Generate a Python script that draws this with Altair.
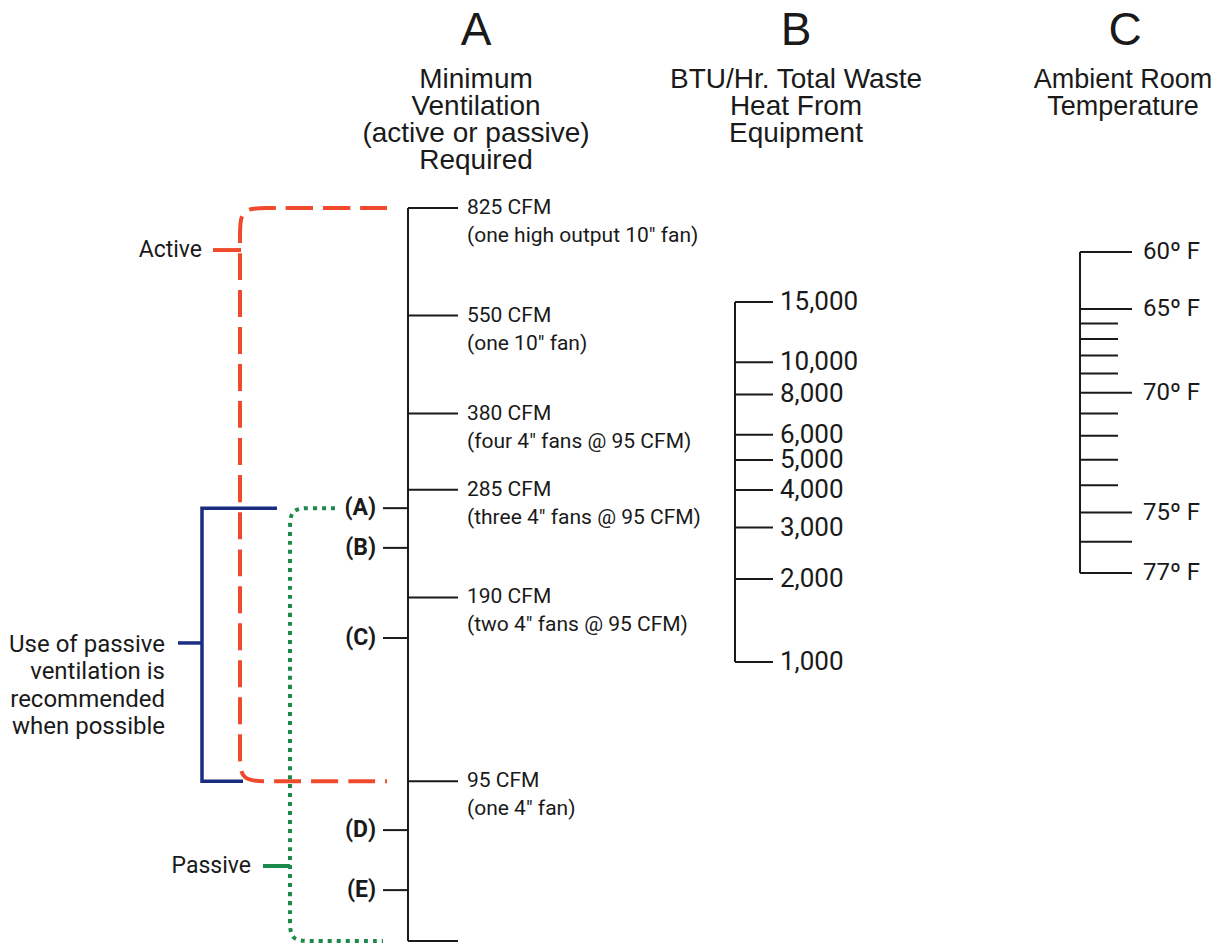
import altair as alt
import pandas as pd

# ---------------- data ----------------
# Column A: minimum ventilation required (CFM)
cfm_values = [825, 550, 380, 285, 190, 95]
cfm_titles = ["825 CFM", "550 CFM", "380 CFM", "285 CFM", "190 CFM", "95 CFM"]
cfm_notes = ['(one high output 10" fan)', '(one 10" fan)', '(four 4" fans @ 95 CFM)',
             '(three 4" fans @ 95 CFM)', '(two 4" fans @ 95 CFM)', '(one 4" fan)']
a_axis_top = [825]
a_axis_bottom = [52]
marker_labels = ["(A)", "(B)", "(C)", "(D)", "(E)"]
marker_values = [266, 229, 163, 79, 63]

# Brackets on column A
active_range = [825, 95]
active_tick = [704]
passive_range = [266, 52]
passive_tick = [69]
recommend_range = [266, 95]
recommend_tick = [160]

# Column B: BTU/Hr waste heat
btu_values = [15000, 10000, 8000, 6000, 5000, 4000, 3000, 2000, 1000]
btu_labels = ["15,000", "10,000", "8,000", "6,000", "5,000", "4,000", "3,000", "2,000", "1,000"]

# Column C: ambient room temperature
temp_major = [60, 65, 70, 75, 76, 77]
temp_minor = [66, 67, 68, 69, 71, 72, 73, 74]
temp_labeled = [60, 65, 70, 75, 77]
temp_labels = ["60\u00ba F", "65\u00ba F", "70\u00ba F", "75\u00ba F", "77\u00ba F"]

# Headers
col_letters = ["A", "B", "C"]
col_titles = [["Minimum", "Ventilation", "(active or passive)", "Required"],
              ["BTU/Hr. Total Waste", "Heat From", "Equipment"],
              ["Ambient Room", "Temperature"]]

# ---------------- styling / layout ----------------
W, H = 1207, 935
OFF = 8  # page margin


def px(v):
    return v - OFF


NARROW = "Roboto, Liberation Sans, sans-serif"
REG = "Liberation Sans, Arial, Helvetica, sans-serif"
ORANGE = "#ef4a2b"
BLUE = "#1b2d82"
GREEN = "#1c8a4a"
BLACK = "#1a1a1a"

A_DOM = [52, 825]
A_RANGE = [px(941), px(208)]
A_SCALE = alt.Scale(type="log", domain=A_DOM, range=A_RANGE, nice=False, zero=False)
B_SCALE = alt.Scale(type="pow", exponent=0.1, domain=[1000, 15000], range=[px(662), px(302)], nice=False, zero=False)
C_SCALE = alt.Scale(type="pow", exponent=6, domain=[60, 77], range=[px(252), px(573)], nice=False, zero=False)
X_SCALE = alt.Scale(domain=[OFF, W + OFF], range=[0, W], nice=False, zero=False)

AX = 408   # column A axis x
BX = 735   # column B axis x
CX = 1080  # column C axis x


def ya(field):
    return alt.Y(field, type="quantitative", scale=A_SCALE, axis=None)


def a_shift(v, d):
    """value on the A (log) scale that lies d pixels below value v (corner rounding)."""
    span = A_RANGE[0] - A_RANGE[1]
    return v * (A_DOM[1] / A_DOM[0]) ** (-d / span)


# ---------------- column A ----------------
cfm_df = pd.DataFrame({"v": cfm_values, "t1": cfm_titles, "t2": cfm_notes})
axis_a_df = pd.DataFrame({"top": a_axis_top, "bottom": a_axis_bottom})
marker_df = pd.DataFrame({"v": marker_values, "lab": marker_labels})

a_line = alt.Chart(axis_a_df).mark_rule(color=BLACK, strokeWidth=2).encode(
    x=alt.value(px(AX)), y=ya("top"), y2="bottom")
a_ticks = alt.Chart(cfm_df).mark_rule(color=BLACK, strokeWidth=2).encode(
    x=alt.value(px(AX)), x2=alt.value(px(AX + 50)), y=ya("v"))
a_bottom_tick = alt.Chart(axis_a_df).mark_rule(color=BLACK, strokeWidth=2).encode(
    x=alt.value(px(AX)), x2=alt.value(px(AX + 50)), y=ya("bottom"))
a_t1 = alt.Chart(cfm_df).mark_text(align="left", baseline="middle", font=NARROW, fontSize=21,
                                   color=BLACK).encode(
    x=alt.value(px(AX + 59)), y=ya("v"), text="t1:N")
a_t2 = alt.Chart(cfm_df).mark_text(align="left", baseline="middle", font=NARROW, fontSize=21,
                                   color=BLACK, dy=28).encode(
    x=alt.value(px(AX + 59)), y=ya("v"), text="t2:N")
m_ticks = alt.Chart(marker_df).mark_rule(color=BLACK, strokeWidth=2).encode(
    x=alt.value(px(383)), x2=alt.value(px(AX)), y=ya("v"))
m_text = alt.Chart(marker_df).mark_text(align="right", baseline="middle", font=NARROW, fontSize=23,
                                        fontWeight="bold", color=BLACK).encode(
    x=alt.value(px(376)), y=ya("v"), text="lab:N")


def bracket_df(xc, x_top_end, x_bot_end, v_top, v_bot, r):
    xs = [x_top_end, xc + 2 * r, xc + r, xc, xc, xc, xc, xc, xc, xc + r, xc + 2 * r, x_bot_end]
    vs = [v_top, v_top, v_top, v_top, a_shift(v_top, r), a_shift(v_top, 2 * r),
          a_shift(v_bot, -2 * r), a_shift(v_bot, -r), v_bot, v_bot, v_bot, v_bot]
    return pd.DataFrame({"o": list(range(len(xs))), "x": xs, "v": vs})


orange_df = bracket_df(240, 387, 387, active_range[0], active_range[1], 27)
green_df = bracket_df(290, 335, 383, passive_range[0], passive_range[1], 22)
# green top horizontal is short: drop the far straight point so the end stays at x=335
green_df = green_df.drop(index=1).reset_index(drop=True)
green_df["o"] = range(len(green_df))
blue_df = pd.DataFrame({"o": [0, 1, 2, 3], "x": [277, 202, 202, 243],
                        "v": [recommend_range[0], recommend_range[0], recommend_range[1], recommend_range[1]]})


def bracket(df, color, dash, width, interp):
    kw = dict(color=color, strokeWidth=width, interpolate=interp, strokeCap="butt")
    if dash:
        kw["strokeDash"] = dash
    return alt.Chart(df).mark_line(**kw).encode(
        x=alt.X("x:Q", scale=X_SCALE, axis=None),
        y=ya("v"),
        order="o:Q")


blue_line = bracket(blue_df, BLUE, None, 3.5, "linear")
orange_line = bracket(orange_df, ORANGE, [27, 10], 4, "basis")
green_line = bracket(green_df, GREEN, [4, 5], 4, "basis")

act_df = pd.DataFrame({"v": active_tick, "lab": ["Active"]})
pas_df = pd.DataFrame({"v": passive_tick, "lab": ["Passive"]})
rec_df = pd.DataFrame({"v": recommend_tick,
                       "lab": [["Use of passive", "ventilation is", "recommended", "when possible"]]})

act_tick = alt.Chart(act_df).mark_rule(color=ORANGE, strokeWidth=4).encode(
    x=alt.value(px(213)), x2=alt.value(px(241)), y=ya("v"))
act_text = alt.Chart(act_df).mark_text(align="right", baseline="middle", font=NARROW, fontSize=23,
                                       color=BLACK).encode(
    x=alt.value(px(202)), y=ya("v"), text="lab:N")
pas_tick = alt.Chart(pas_df).mark_rule(color=GREEN, strokeWidth=4).encode(
    x=alt.value(px(263)), x2=alt.value(px(290)), y=ya("v"))
pas_text = alt.Chart(pas_df).mark_text(align="right", baseline="middle", font=NARROW, fontSize=23,
                                       color=BLACK).encode(
    x=alt.value(px(251)), y=ya("v"), text="lab:N")
rec_tick = alt.Chart(rec_df).mark_rule(color=BLUE, strokeWidth=3.5).encode(
    x=alt.value(px(178)), x2=alt.value(px(202)), y=ya("v"))
rec_text = alt.Chart(rec_df).mark_text(align="right", baseline="alphabetic", font=NARROW, fontSize=24,
                                       lineHeight=27.5, dy=9, color=BLACK).encode(
    x=alt.value(px(165)), y=ya("v"), text="lab")

col_a = alt.layer(blue_line, orange_line, green_line, a_line, a_ticks, a_bottom_tick, a_t1, a_t2,
                  m_ticks, m_text, act_tick, act_text, pas_tick, pas_text, rec_tick, rec_text)

# ---------------- column B ----------------
btu_df = pd.DataFrame({"v": btu_values, "lab": btu_labels})
b_ext = pd.DataFrame({"top": [max(btu_values)], "bottom": [min(btu_values)]})
yb = lambda f: alt.Y(f, type="quantitative", scale=B_SCALE, axis=None)
b_line = alt.Chart(b_ext).mark_rule(color=BLACK, strokeWidth=2).encode(
    x=alt.value(px(BX)), y=yb("top"), y2="bottom")
b_ticks = alt.Chart(btu_df).mark_rule(color=BLACK, strokeWidth=2).encode(
    x=alt.value(px(BX)), x2=alt.value(px(BX + 38)), y=yb("v"))
b_text = alt.Chart(btu_df).mark_text(align="left", baseline="middle", font=NARROW, fontSize=26,
                                     color=BLACK).encode(
    x=alt.value(px(BX + 45)), y=yb("v"), text="lab:N")
col_b = alt.layer(b_line, b_ticks, b_text)

# ---------------- column C ----------------
c_ext = pd.DataFrame({"top": [min(temp_major)], "bottom": [max(temp_major)]})
major_df = pd.DataFrame({"v": temp_major})
minor_df = pd.DataFrame({"v": temp_minor})
lab_df = pd.DataFrame({"v": temp_labeled, "lab": temp_labels})
yc = lambda f: alt.Y(f, type="quantitative", scale=C_SCALE, axis=None)
c_line = alt.Chart(c_ext).mark_rule(color=BLACK, strokeWidth=2).encode(
    x=alt.value(px(CX)), y=yc("top"), y2="bottom")
c_major = alt.Chart(major_df).mark_rule(color=BLACK, strokeWidth=2).encode(
    x=alt.value(px(CX)), x2=alt.value(px(CX + 52)), y=yc("v"))
c_minor = alt.Chart(minor_df).mark_rule(color=BLACK, strokeWidth=2).encode(
    x=alt.value(px(CX)), x2=alt.value(px(CX + 38)), y=yc("v"))
c_text = alt.Chart(lab_df).mark_text(align="left", baseline="middle", font=NARROW, fontSize=24,
                                     color=BLACK).encode(
    x=alt.value(px(CX + 63)), y=yc("v"), text="lab:N")
col_c = alt.layer(c_line, c_major, c_minor, c_text)

# ---------------- headers ----------------
head_x = [476, 796, 1123]
head_size = [28, 28, 27]
head_layers = []
for i in range(3):
    hdf = pd.DataFrame({"letter": [col_letters[i]], "title": [col_titles[i]]})
    head_layers.append(alt.Chart(hdf).mark_text(align="center", baseline="alphabetic", font=REG,
                                                fontSize=46, color=BLACK).encode(
        x=alt.value(px(head_x[i] + (2 if i == 2 else 0))), y=alt.value(px(45)), text="letter:N"))
    head_layers.append(alt.Chart(hdf).mark_text(align="center", baseline="alphabetic", font=REG,
                                                fontSize=head_size[i], lineHeight=27, color=BLACK).encode(
        x=alt.value(px(head_x[i])), y=alt.value(px(88)), text="title"))
heads = alt.layer(*head_layers)

chart = alt.layer(col_a, col_b, col_c, heads).resolve_scale(y="independent").properties(
    width=W, height=H, padding=0, autosize=alt.AutoSizeParams(type="none"),
    background="white").configure_view(stroke=None)

chart.save("out.html", embed_options={"renderer": "svg", "actions": False})
